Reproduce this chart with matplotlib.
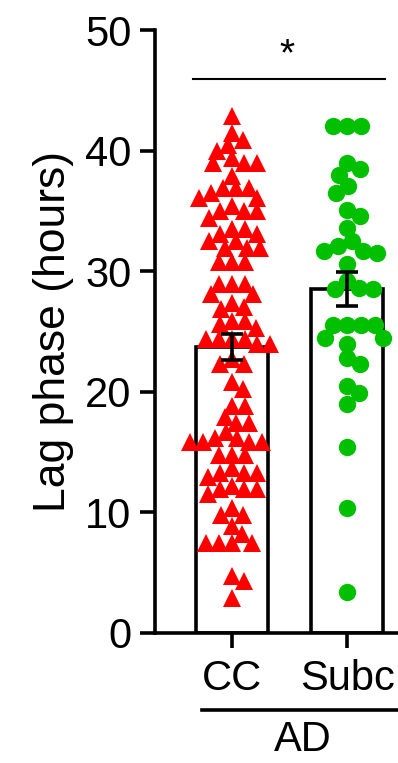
import numpy as np
import matplotlib
matplotlib.use("Agg")
from matplotlib import pyplot as plt
from matplotlib import transforms

plt.rcParams['font.family'] = ['Liberation Sans', 'DejaVu Sans']

# values
group_names = ['CC', 'Subc']
group_means = [23.7, 28.5]
group_sems = [1.1, 1.4]

cc_values = [42.9, 41.5, 40.9, 40.5, 40.0, 39.4, 39.0, 39.0, 39.0, 37.9,
             36.9, 36.5, 36.9, 36.9, 36.1, 36.1, 35.4, 35.0, 35.0, 35.0,
             34.4, 33.5, 33.5, 33.1, 33.1, 32.5, 32.5, 31.9, 31.9, 31.9,
             30.8, 30.8, 30.8, 28.9, 28.9, 28.9, 27.4, 27.0, 28.1, 28.1,
             26.9, 25.9, 25.6, 25.9, 25.3, 24.4, 24.0, 24.0, 24.4, 24.4,
             24.4, 22.7, 22.3, 22.3,
             20.2, 20.8, 18.8, 18.8, 17.4, 17.9, 17.4, 16.7, 15.8, 16.2,
             16.2, 15.8, 15.8, 15.8, 14.8, 14.8, 14.8, 13.7, 12.9, 13.3,
             13.3, 13.3, 12.2, 11.9, 11.9, 11.5, 11.9, 9.8, 9.8, 10.4,
             8.9, 8.2, 7.5, 7.5, 7.5, 7.5, 4.7, 4.3, 2.9]

subc_values = [42.0, 42.0, 42.0, 39.0, 38.5, 38.0, 37.1, 36.5, 35.1, 34.6,
               33.6, 32.5, 31.7, 32.1, 31.7, 31.5, 30.6, 29.2, 28.5, 28.6,
               28.5, 25.5, 25.5, 25.5, 25.5, 24.5, 24.5, 24.0, 22.8, 22.3,
               20.5, 19.9, 19.0, 15.4, 10.4, 3.4]

XLIM = (-0.67, 1.443)
YLIM = (0, 50)


def swarm_offsets(values, px_x, px_y, d):
    # simple beeswarm: nearest free horizontal spot, in pixels
    order = np.argsort(values)[::-1]
    placed = []
    offs = np.zeros(len(values))
    cands = [0.0]
    for k in range(1, 200):
        cands += [k * 1.0, -k * 1.0]
    for i in order:
        y = values[i] * px_y
        for c in cands:
            ok = True
            for (px, py) in placed:
                if (c - px) ** 2 + (y - py) ** 2 < d * d:
                    ok = False
                    break
            if ok:
                placed.append((c, y))
                offs[i] = c / px_x
                break
    return offs


fig = plt.figure(figsize=(3.98, 7.63), dpi=100)
ax = fig.add_axes([155 / 398, 1 - 633 / 763, 243 / 398, 603 / 763])
ax.set_xlim(*XLIM)
ax.set_ylim(*YLIM)

px_x = 243 / (XLIM[1] - XLIM[0])
px_y = 603 / (YLIM[1] - YLIM[0])

x = np.arange(len(group_names))
ax.bar(x, group_means, width=0.62, color='white', edgecolor='black',
       linewidth=2.6, zorder=1)

cc_off = swarm_offsets(np.array(cc_values), px_x, px_y, 12.5)
sb_off = swarm_offsets(np.array(subc_values), px_x, px_y, 14)
ax.plot(x[0] + cc_off, cc_values, linestyle='none', marker='^', ms=13,
        color='#ff0000', markeredgewidth=0, zorder=2, clip_on=False)
ax.plot(x[1] + sb_off, subc_values, linestyle='none', marker='o', ms=12.5,
        color='#00c000', markeredgewidth=0, zorder=2, clip_on=False)

ax.errorbar(x, group_means, yerr=group_sems, fmt='none', ecolor='black',
            elinewidth=2.6, capsize=8, capthick=2.6, zorder=3)

for s in ['top', 'right']:
    ax.spines[s].set_visible(False)
for s in ['left', 'bottom']:
    ax.spines[s].set_linewidth(2.6)

ax.set_yticks([0, 10, 20, 30, 40, 50])
ax.set_xticks(x)
ax.set_xticklabels(group_names)
ax.tick_params(axis='both', length=11, width=2.6, labelsize=30)
ax.tick_params(axis='x', pad=8)
ax.tick_params(axis='y', pad=6)
ax.set_ylabel('Lag phase (hours)', fontsize=32, labelpad=8)

# significance bar
ax.plot([-0.34, 1.33], [45.9, 45.9], color='black', lw=1.5, clip_on=False)
ax.text(0.478, 46.4, '*', ha='center', va='bottom', fontsize=28)

# group bracket under the tick labels
tr = transforms.blended_transform_factory(ax.transData, ax.transAxes)
ax.plot([-0.26, 1.6], [-0.128, -0.128], color='black', lw=2.6,
        transform=tr, clip_on=False)
ax.text(0.617, -0.145, 'AD', ha='center', va='top', fontsize=30,
        transform=tr)

fig.savefig('out.png', dpi=100)
